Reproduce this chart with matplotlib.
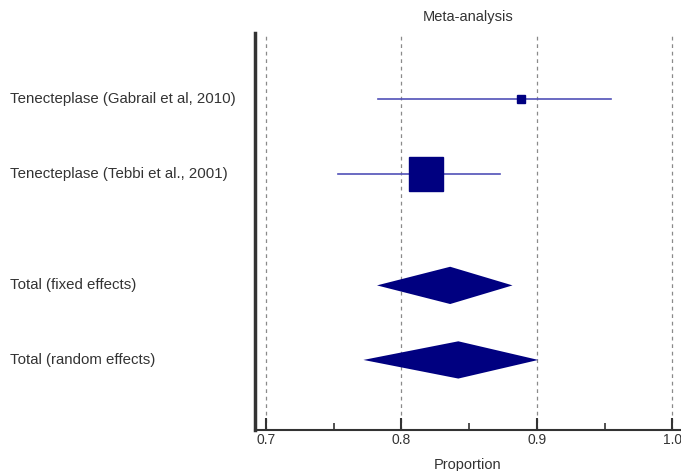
import numpy as np
import matplotlib.pyplot as plt

plt.rcParams['font.family'] = ['Liberation Sans', 'DejaVu Sans']

# study data (proportion, 95% CI, weight %)
studies = ["Tenecteplase (Gabrail et al, 2010)", "Tenecteplase (Tebbi et al., 2001)"]
est = [0.888, 0.818]
lo = [0.783, 0.753]
hi = [0.955, 0.873]
weights = [5.5, 94.5]

# pooled estimates
pooled_names = ["Total (fixed effects)", "Total (random effects)"]
pooled_est = [0.836, 0.842]
pooled_lo = [0.782, 0.772]
pooled_hi = [0.882, 0.901]

study_rows = [0, 1]
pooled_rows = [2.5, 3.5]

navy = "#000080"
line_blue = "#5050b8"
txt = "#333333"

fig = plt.figure(figsize=(6.81, 4.71), dpi=100)
ax = fig.add_axes([255 / 681, 41 / 471, 426 / 681, 397 / 471])

# confidence intervals and weighted squares
for r, e, l, h, w in zip(study_rows, est, lo, hi, weights):
    ax.plot([l, h], [r, r], color=line_blue, lw=1.2, zorder=2)
    ms = 3.4 * np.sqrt(w) * 72 / 100
    ax.plot(e, r, marker="s", ms=ms, color=navy, mec=navy, zorder=3)

# diamonds for pooled estimates
for r, e, l, h in zip(pooled_rows, pooled_est, pooled_lo, pooled_hi):
    ax.fill([l, e, h, e], [r, r - 0.25, r, r + 0.25], color=navy, lw=0, zorder=3)

ax.set_xlim(0.692, 1.0063)
ax.set_ylim(4.44, -0.886)

for xv in [0.7, 0.8, 0.9, 1.0]:
    ax.plot([xv, xv], [4.44, -0.86], ls=(0, (3, 3)), color="#8a8a8a", lw=0.9, zorder=1)

# labels on the left
for r, name in zip(study_rows + pooled_rows, studies + pooled_names):
    fig.text(10 / 681, ax.transData.transform((0.8, r))[1] / fig.bbox.height,
             name, ha="left", va="center", fontsize=10.8, color=txt)

ax.set_title("Meta-analysis", fontsize=10.5, color=txt, pad=9)
ax.set_xlabel("Proportion", fontsize=10.5, color=txt, labelpad=8)

ax.set_xticks([0.7, 0.8, 0.9, 1.0])
ax.set_xticklabels(["0.7", "0.8", "0.9", "1.0"])
ax.set_xticks([0.75, 0.85, 0.95], minor=True)
ax.tick_params(axis="x", which="major", direction="in", length=9, width=1.5,
               colors=txt, labelsize=10, pad=2)
ax.tick_params(axis="x", which="minor", direction="in", length=5, width=1.2, colors=txt)
ax.set_yticks([])

for s in ["top", "right"]:
    ax.spines[s].set_visible(False)
ax.spines["left"].set_linewidth(2.5)
ax.spines["left"].set_color(txt)
ax.spines["bottom"].set_linewidth(1.5)
ax.spines["bottom"].set_color(txt)

fig.savefig("out.png", dpi=100)
